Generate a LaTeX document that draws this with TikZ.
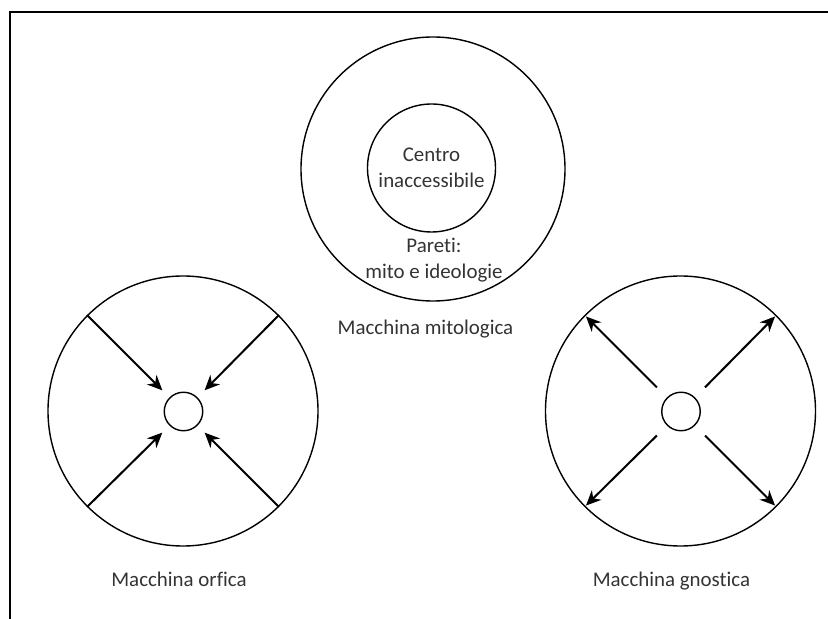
\documentclass[tikz,border=0pt]{standalone}
\usepackage{fontspec}
\setmainfont[RawFeature={-liga,-dlig,-calt,-clig}]{Carlito}
\usetikzlibrary{arrows.meta}

\begin{document}
\begin{tikzpicture}[
        ring/.style={draw=black, circle, line width=0.8pt, inner sep=0pt},
        ray/.style={-{Stealth[length=0.3cm, width=0.27cm]}, line width=1.15pt},
        lbl/.style={text=black!80, font=\fontsize{11.9}{14.8}\selectfont, align=center, inner sep=0pt}]
        \useasboundingbox (0, 0) rectangle (16.56, 12.38);
        \draw[line width=0.85pt] (0.2, 0) -- (0.2, 12.14) -- (16.56, 12.14);

        \def\rout{5.4cm}
        \def\rin{0.77cm}

        \node[ring, minimum size=5.28cm] (mitout) at (8.66, 9.0) {};
        \node[ring, lbl, minimum size=2.56cm] (mitin) at (8.63, 9.02) {Centro\\inaccessibile};
        \node[lbl] (pareti) at (8.68, 7.17) {Pareti:\\mito e ideologie};
        \node[lbl, anchor=base] (mitlab) at (8.51, 5.68) {Macchina mitologica};

        \node[ring, minimum size=\rout] (orfout) at (3.66, 4.16) {};
        \node[ring, minimum size=\rin] (orfin) at (3.67, 4.15) {};
        \node[lbl, anchor=base] (orflab) at (3.58, 0.646) {Macchina orfica};

        \node[ring, minimum size=\rout] (gnoout) at (13.61, 4.16) {};
        \node[ring, minimum size=\rin] (gnoin) at (13.62, 4.15) {};
        \node[lbl, anchor=base] (gnolab) at (13.43, 0.646) {Macchina gnostica};

        \draw[ray, shorten >=0.2cm] (orfout.45) -- (orfin.45);
        \draw[ray, shorten >=0.2cm] (orfout.135) -- (orfin.135);
        \draw[ray, shorten >=0.2cm] (orfout.225) -- (orfin.225);
        \draw[ray, shorten >=0.2cm] (orfout.315) -- (orfin.315);

        \draw[ray, shorten <=0.28cm, shorten >=0.04cm] (gnoin.45) -- (gnoout.45);
        \draw[ray, shorten <=0.28cm, shorten >=0.04cm] (gnoin.135) -- (gnoout.135);
        \draw[ray, shorten <=0.28cm, shorten >=0.04cm] (gnoin.225) -- (gnoout.225);
        \draw[ray, shorten <=0.28cm, shorten >=0.04cm] (gnoin.315) -- (gnoout.315);
      \end{tikzpicture}
\end{document}
